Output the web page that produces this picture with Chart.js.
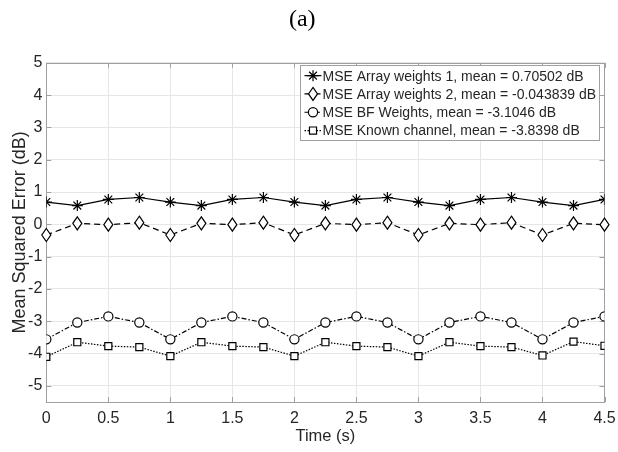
<!DOCTYPE html>
<html>
<head>
<meta charset="utf-8">
<script src="https://cdn.jsdelivr.net/npm/chart.js@4.4.1/dist/chart.umd.min.js"></script>
<style>
  html, body { margin: 0; padding: 0; background: #fff; }
  #wrap { width: 618px; height: 452px; }
</style>
</head>
<body>
<div id="wrap"><canvas id="mseChart"></canvas></div>
<script>
// time axis (s)
const times = [0, 0.25, 0.5, 0.75, 1, 1.25, 1.5, 1.75, 2, 2.25, 2.5, 2.75, 3, 3.25, 3.5, 3.75, 4, 4.25, 4.5]

// MSE values in dB
const arrayWeights1 = [0.69, 0.58, 0.77, 0.83, 0.69, 0.58, 0.77, 0.83, 0.69, 0.58, 0.77, 0.83, 0.69, 0.58, 0.77, 0.83, 0.69, 0.58, 0.77]
const arrayWeights2 = [-0.33, 0.03, -0.01, 0.05, -0.33, 0.03, -0.01, 0.05, -0.33, 0.03, -0.01, 0.05, -0.33, 0.03, -0.01, 0.05, -0.33, 0.03, -0.01]
const bfWeights = [-3.56, -3.04, -2.85, -3.04, -3.56, -3.04, -2.85, -3.04, -3.56, -3.04, -2.85, -3.04, -3.56, -3.04, -2.85, -3.04, -3.56, -3.04, -2.85]
const knownChannel = [-4.1, -3.65, -3.77, -3.8, -4.08, -3.65, -3.77, -3.8, -4.08, -3.65, -3.77, -3.8, -4.08, -3.65, -3.77, -3.8, -4.06, -3.63, -3.76]

const seriesLabels = [
  'MSE Array weights 1, mean = 0.70502 dB',
  'MSE Array weights 2, mean = -0.043839 dB',
  'MSE BF Weights, mean = -3.1046 dB',
  'MSE Known channel, mean = -3.8398 dB'
]

const xTicks = [0, 0.5, 1, 1.5, 2, 2.5, 3, 3.5, 4, 4.5]
const yTicks = [-5, -4, -3, -2, -1, 0, 1, 2, 3, 4, 5]

const INK = '#000000'
const TXT = '#262626'
const FRAME = '#a0a0a0'

// matlab's diamond is taller than it is wide, so draw it as a path
function drawDiamond(ctx, x, y, halfW, halfH, lw) {
  ctx.save()
  ctx.beginPath()
  ctx.moveTo(x, y - halfH)
  ctx.lineTo(x + halfW, y)
  ctx.lineTo(x, y + halfH)
  ctx.lineTo(x - halfW, y)
  ctx.closePath()
  ctx.fillStyle = '#fff'
  ctx.fill()
  ctx.lineWidth = lw
  ctx.strokeStyle = INK
  ctx.stroke()
  ctx.restore()
}

function toPoints(ys) {
  return ys.map((y, i) => ({ x: times[i], y: y }))
}

// frame round the axes with small inward ticks
const axesBox = {
  id: 'axesBox',
  beforeDatasetsDraw(chart) {
    const ctx = chart.ctx
    const { left, right, top, bottom } = chart.chartArea
    const sx = chart.scales.x
    const sy = chart.scales.y
    ctx.save()
    ctx.strokeStyle = FRAME
    ctx.lineWidth = 1
    ctx.beginPath()
    xTicks.forEach(v => {
      const px = Math.round(sx.getPixelForValue(v)) + 0.5
      ctx.moveTo(px, bottom); ctx.lineTo(px, bottom - 5)
      ctx.moveTo(px, top); ctx.lineTo(px, top + 5)
    })
    yTicks.forEach(v => {
      const py = Math.round(sy.getPixelForValue(v)) + 0.5
      ctx.moveTo(left, py); ctx.lineTo(left + 5, py)
      ctx.moveTo(right, py); ctx.lineTo(right - 5, py)
    })
    ctx.stroke()
    ctx.strokeRect(Math.round(left) + 0.5, Math.round(top) + 0.5, Math.round(right - left), Math.round(bottom - top))
    ctx.restore()
  }
}

// diamonds for datasets flagged with marker: 'diamond'
const diamondMarkers = {
  id: 'diamondMarkers',
  afterDatasetDraw(chart, args) {
    const ds = chart.data.datasets[args.index]
    if (ds.marker !== 'diamond') return
    args.meta.data.forEach(pt => {
      drawDiamond(chart.ctx, pt.x, pt.y, ds.markerHalfW, ds.markerHalfH, ds.pointBorderWidth)
    })
  }
}

// legend inside the axes, top right, with a box
const boxedLegend = {
  id: 'boxedLegend',
  afterDraw(chart, args, opts) {
    const ctx = chart.ctx
    const { right, top } = chart.chartArea
    const sets = chart.data.datasets
    ctx.save()
    ctx.font = opts.font
    let textW = 0
    sets.forEach(ds => { textW = Math.max(textW, ctx.measureText(ds.label).width) })
    const boxW = Math.round(opts.padX + opts.sample + opts.gap + textW + opts.padRight)
    const boxH = Math.round(sets.length * opts.rowHeight + 2 * opts.padY)
    const x0 = Math.round(right - opts.margin - boxW) + 0.5
    const y0 = Math.round(top + opts.marginTop) + 0.5
    ctx.fillStyle = '#fff'
    ctx.fillRect(x0, y0, boxW, boxH)
    ctx.strokeStyle = FRAME
    ctx.lineWidth = 1
    ctx.strokeRect(x0, y0, boxW, boxH)

    sets.forEach((ds, i) => {
      const yc = y0 + opts.padY + opts.rowHeight * (i + 0.5)
      const xs = x0 + opts.padX
      const xm = xs + opts.sample / 2
      ctx.strokeStyle = INK
      ctx.lineWidth = ds.borderWidth
      ctx.setLineDash(ds.borderDash || [])
      ctx.beginPath()
      ctx.moveTo(xs, yc)
      ctx.lineTo(xs + opts.sample, yc)
      ctx.stroke()
      ctx.setLineDash([])
      if (ds.marker === 'diamond') {
        drawDiamond(ctx, xm, yc, ds.markerHalfW, ds.markerHalfH, ds.pointBorderWidth)
      } else {
        ctx.fillStyle = '#fff'
        ctx.lineWidth = ds.pointBorderWidth
        Chart.helpers.drawPoint(ctx, {
          pointStyle: ds.pointStyle,
          radius: ds.pointRadius,
          rotation: 0,
          borderWidth: ds.pointBorderWidth
        }, xm, yc)
      }
      ctx.fillStyle = TXT
      ctx.textAlign = 'left'
      ctx.textBaseline = 'middle'
      ctx.fillText(ds.label, xs + opts.sample + opts.gap, yc + 1)
    })
    ctx.restore()
  }
}

function series(label, ys, dash, style, radius) {
  return {
    label: label,
    data: toPoints(ys),
    borderColor: INK,
    borderWidth: 1.2,
    borderDash: dash,
    pointStyle: style,
    pointRadius: radius,
    pointBorderWidth: 1.2,
    pointBorderColor: INK,
    pointBackgroundColor: '#fff',
    tension: 0,
    fill: false
  }
}

const diamondSeries = series(seriesLabels[1], arrayWeights2, [6, 4], 'rectRot', 0)
diamondSeries.marker = 'diamond'
diamondSeries.markerHalfW = 4.5
diamondSeries.markerHalfH = 6.5

const ctxMse = document.getElementById('mseChart').getContext('2d')
const mseChart = new Chart(ctxMse, {
  type: 'line',
  data: {
    datasets: [
      series(seriesLabels[0], arrayWeights1, [], 'star', 5.5),
      diamondSeries,
      series(seriesLabels[2], bfWeights, [5, 2, 1.5, 2], 'circle', 4.6),
      series(seriesLabels[3], knownChannel, [1.5, 1.5], 'rect', 5)
    ]
  },
  options: {
    responsive: true,
    maintainAspectRatio: false,
    animation: false,
    layout: { padding: { left: 0, right: 13.5, top: 0, bottom: 0 } },
    scales: {
      x: {
        type: 'linear',
        min: 0,
        max: 4.5,
        afterBuildTicks: axis => { axis.ticks = xTicks.map(v => ({ value: v })) },
        afterFit: scale => {
          scale.height = 50
          scale.paddingLeft = 0
          scale.paddingRight = 0
        },
        grid: { color: '#e6e6e6', lineWidth: 1, drawTicks: false },
        border: { display: false },
        ticks: {
          color: TXT,
          font: { family: 'Liberation Sans, Arial, sans-serif', size: 16 },
          padding: 7,
          maxRotation: 0,
          callback: v => String(v)
        },
        title: {
          display: true,
          text: 'Time (s)',
          color: TXT,
          font: { family: 'Liberation Sans, Arial, sans-serif', size: 16.5 },
          padding: { top: 0, bottom: 6 }
        }
      },
      y: {
        type: 'linear',
        min: -5.5,
        max: 5,
        afterBuildTicks: axis => { axis.ticks = yTicks.map(v => ({ value: v })) },
        afterFit: scale => {
          scale.width = 46.3
          scale.paddingTop = 0
          scale.paddingBottom = 0
        },
        grid: { color: '#e6e6e6', lineWidth: 1, drawTicks: false },
        border: { display: false },
        ticks: {
          color: TXT,
          font: { family: 'Liberation Sans, Arial, sans-serif', size: 16 },
          padding: 4,
          callback: v => String(v)
        },
        title: {
          display: true,
          text: 'Mean Squared Error (dB)',
          color: TXT,
          font: { family: 'Liberation Sans, Arial, sans-serif', size: 18 },
          padding: { top: 9, bottom: 0 }
        }
      }
    },
    plugins: {
      legend: { display: false },
      tooltip: { enabled: false },
      title: {
        display: true,
        text: '(a)',
        color: INK,
        font: { family: 'Liberation Serif, serif', size: 24, weight: 'normal' },
        padding: { top: 5, bottom: 29 }
      },
      boxedLegend: {
        font: '14px "Liberation Sans", Arial, sans-serif',
        rowHeight: 18.3,
        padX: 4,
        padY: 1,
        padRight: 3,
        sample: 17,
        gap: 1,
        margin: 5.5,
        marginTop: 2
      }
    }
  },
  plugins: [axesBox, diamondMarkers, boxedLegend]
})
</script>
</body>
</html>
